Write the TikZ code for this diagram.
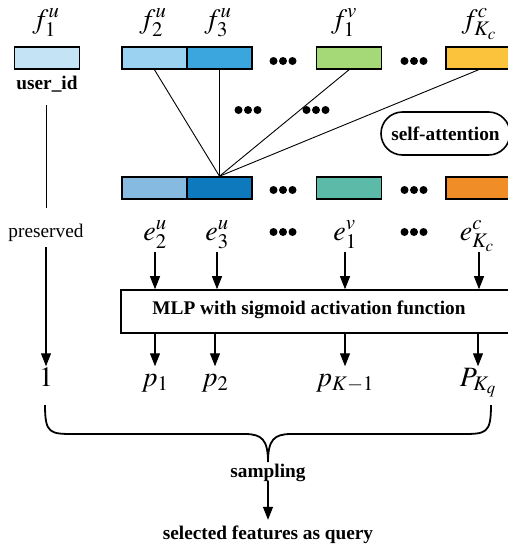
\documentclass[tikz,border=0pt]{standalone}
\usepackage{mathptmx}
\usepackage[no-math]{fontspec}
\setmainfont{Liberation Serif}
\usetikzlibrary{arrows.meta}
\definecolor{c0}{HTML}{C4E4F5}
\definecolor{c2}{HTML}{9BD2F1}
\definecolor{c3}{HTML}{3AA6DD}
\definecolor{c4}{HTML}{A5D977}
\definecolor{c5}{HTML}{FBC33C}
\definecolor{d2}{HTML}{86BAE1}
\definecolor{d3}{HTML}{0E7ABD}
\definecolor{d4}{HTML}{5CBBA8}
\definecolor{d5}{HTML}{F08D26}
\newcommand\mfont{\fontsize{28}{33}\selectfont}
\newcommand\tfont{\fontsize{19.3}{23}\selectfont}
\begin{document}
\begin{tikzpicture}[x=1pt,y=-1pt,
  featbox/.style={draw, line width=1.6pt, minimum width=65pt, minimum height=22pt, inner sep=0},
  mlab/.style={inner sep=0, font=\mfont, text height=19.5pt, text depth=12pt, anchor=base},
  tlab/.style={inner sep=0, font=\tfont, text height=13pt, text depth=4pt, anchor=base},
  thin/.style={line width=0.9pt},
  arr/.style={line width=1.2pt, -{Triangle[length=13pt,width=10pt]}},
  tdots/.pic={\fill (-9.5,0) circle[radius=4pt] (0,0) circle[radius=4pt] (9.5,0) circle[radius=4pt];}
]
\useasboundingbox (0,0) rectangle (508,552);

% top labels
\node[mlab] (lf1u) at (46,28) {$f_1^u$};
\node[mlab] (lf2u) at (153,28) {$f_2^u$};
\node[mlab] (lf3u) at (218,28) {$f_3^u$};
\node[mlab] (lf1v) at (344,28) {$f_1^v$};
\node[mlab] (lfkc) at (479,28) {$f_{K_c}^c$};

% top row
\node[featbox, fill=c0] (u1) at (47,58) {};
\node[featbox, fill=c2] (t2) at (154.5,58) {};
\node[featbox, fill=c3] (t3) at (219.5,58) {};
\node[featbox, fill=c4] (t4) at (349,58) {};
\node[featbox, fill=c5] (t5) at (478.5,58) {};
\pic at (283,61) {tdots};
\pic at (414,61) {tdots};

\node[tlab, font=\tfont\bfseries] (uid) at (47,89) {user\_id};

% bottom row
\node[featbox, fill=d2] (b2) at (154.5,188) {};
\node[featbox, fill=d3] (b3) at (219.5,188) {};
\node[featbox, fill=d4] (b4) at (349,188) {};
\node[featbox, fill=d5] (b5) at (478.5,188) {};
\pic at (283,190) {tdots};
\pic at (414,190) {tdots};

% attention lines
\draw[thin] (t2.south) -- (b3.north);
\draw[thin] (t3.south) -- (b3.north);
\draw[thin] (t4.south) -- (b3.north);
\draw[thin] (t5.south) -- (b3.north);
\pic at (248,110) {tdots};
\pic at (316,110) {tdots};

\node[draw, line width=1.6pt, rounded corners=21.5pt, minimum width=129pt, minimum height=43pt, inner sep=0, font=\tfont\bfseries] (sa) at (445.5,133.5) {self-attention};

% preserved
\coordinate (ps) at (46,105);
\coordinate (pa) at (46,208);
\coordinate (pb) at (46,247);
\node[tlab] (pres) at (46,237) {preserved};
\draw[thin] (ps) -- (pa);

% e labels
\node[mlab] (e2) at (155,240) {$e_2^u$};
\node[mlab] (e3) at (217,240) {$e_3^u$};
\node[mlab] (e1v) at (345,240) {$e_1^v$};
\node[mlab] (ekc) at (477,240) {$e_{K_c}^c$};
\pic at (283,232) {tdots};
\pic at (414,232) {tdots};

% MLP
\node[draw, line width=1.6pt, minimum width=394pt, minimum height=43pt, inner sep=0] (mlp) at (318,311.5) {};
\node[inner sep=0, font=\tfont\bfseries] (mlptxt) at (309,310) {MLP with sigmoid activation function};

\draw[arr] (e2.south) -- (e2.south |- mlp.north);
\draw[arr] (e3.south) -- (e3.south |- mlp.north);
\draw[arr] (e1v.south) -- (e1v.south |- mlp.north);
\draw[arr] ([xshift=2pt]ekc.south) -- ([xshift=2pt]ekc.south |- mlp.north);

% p labels
\node[mlab] (one) at (46,386) {$1$};
\node[mlab] (p1) at (155,386) {$p_1$};
\node[mlab] (p2) at (215,386) {$p_2$};
\node[mlab] (pk) at (345,386) {$p_{K-1}$};
\node[mlab] (pkq) at (478,386) {$P_{K_q}$};

\draw[arr] (pb) -- (one.north);
\draw[arr] (mlp.south -| p1.north) -- (p1.north);
\draw[arr] (mlp.south -| p2.north) -- (p2.north);
\draw[arr] (mlp.south -| pk.north) -- (pk.north);
\draw[arr] (mlp.south -| pkq.north) -- (pkq.north);

% brace
\coordinate (bl) at (45,405);
\coordinate (br) at (491,405);
\coordinate (btip) at (268,462);
\draw[line width=1.8pt] (bl) .. controls (45,434) and (50,434) .. (75,434) -- (245,434)
  .. controls (262,434) and (268,440) .. (btip)
  .. controls (268,440) and (274,434) .. (291,434) -- (461,434)
  .. controls (486,434) and (491,434) .. (br);

\node[tlab, font=\tfont\bfseries] (samp) at (268,477) {sampling};
\node[tlab, font=\tfont\bfseries, inner ysep=6pt] (query) at (268,539) {selected features as query};
\draw[arr] (samp.south) -- (query.north);
\end{tikzpicture}
\end{document}
